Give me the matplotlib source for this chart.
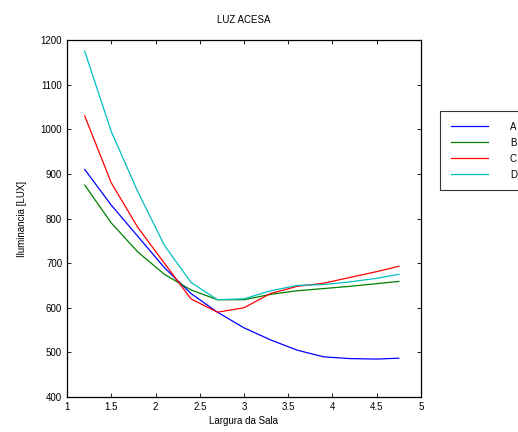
import matplotlib.pyplot as plt
import numpy as np

plt.rcParams['font.family'] = ['Liberation Sans', 'DejaVu Sans']

largura = [1.2, 1.5, 1.8, 2.1, 2.4, 2.7, 3.0, 3.3, 3.6, 3.9, 4.2, 4.5, 4.75]
lux_a = [910, 830, 760, 690, 632, 590, 555, 528, 505, 490, 486, 485, 487]
lux_b = [875, 790, 725, 675, 640, 618, 618, 630, 638, 643, 648, 654, 659]
lux_c = [1030, 880, 780, 700, 620, 590, 600, 632, 648, 655, 668, 681, 693]
lux_d = [1175, 995, 860, 740, 657, 618, 620, 638, 650, 652, 658, 666, 675]
labels = ["A", "B", "C", "D"]
colors = ["#0000ff", "#008000", "#ff0000", "#00bfbf"]

fig = plt.figure(figsize=(5.18, 4.32), dpi=100)
ax = fig.add_axes([67 / 518, 1 - 397 / 432, (421 - 67) / 518, (397 - 40) / 432])

for y, lab, c in zip([lux_a, lux_b, lux_c, lux_d], labels, colors):
    ax.plot(largura, y, color=c, lw=0.9, label=lab)

ax.set_xlim(1, 5)
ax.set_ylim(400, 1200)
ax.set_xticks(np.arange(1, 5.01, 0.5))
ax.set_xticklabels(["1", "1.5", "2", "2.5", "3", "3.5", "4", "4.5", "5"])
ax.set_yticks(np.arange(400, 1201, 100))
ax.tick_params(direction="in", top=True, right=True, labelsize=7, length=3, width=0.6)
for s in ax.spines.values():
    s.set_linewidth(0.9)

ax.set_title("LUZ ACESA", fontsize=7, pad=12)
ax.set_xlabel("Largura da Sala", fontsize=7, labelpad=3)
ax.set_ylabel("Iluminancia [LUX]", fontsize=7, labelpad=10)

leg = fig.legend(loc="upper left", bbox_to_anchor=(440 / 518, 1 - 111 / 432),
                 fontsize=7, frameon=True, fancybox=False, handlelength=3.8,
                 handletextpad=2.3, borderpad=1.1, labelspacing=0.62, borderaxespad=0)
leg.get_frame().set_edgecolor("black")
leg.get_frame().set_linewidth(0.8)

fig.savefig("out.png", dpi=100)
